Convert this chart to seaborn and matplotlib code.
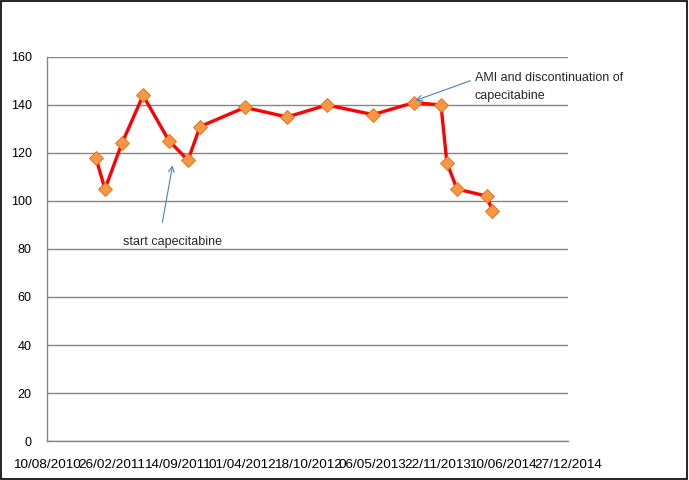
import pandas as pd
import numpy as np
import matplotlib
matplotlib.use("Agg")
import matplotlib.pyplot as plt
import matplotlib.dates as mdates
import seaborn as sns

# values
dates = ["2011-01-07", "2011-02-04", "2011-03-28", "2011-06-01", "2011-08-20",
         "2011-10-17", "2011-11-23", "2012-04-09", "2012-08-16", "2012-12-17",
         "2013-05-07", "2013-09-10", "2013-12-02", "2013-12-20", "2014-01-20",
         "2014-04-22", "2014-05-08"]
values = [118, 105, 124, 144, 125, 117, 131, 139, 135, 140,
          136, 141, 140, 116, 105, 102, 96]
y_ticks = [0, 20, 40, 60, 80, 100, 120, 140, 160]

df = pd.DataFrame({"date": pd.to_datetime(dates), "value": values})

sns.set_style("white")
plt.rcParams["font.family"] = ["Liberation Sans", "DejaVu Sans"]

fig = plt.figure(figsize=(6.89, 4.8), dpi=100)
ax = fig.add_axes([47 / 689, 1 - 441 / 480, 521 / 689, 384 / 480])

sns.lineplot(data=df, x="date", y="value", ax=ax, color="#FF0000", linewidth=2.4,
             marker="D", markersize=7, markerfacecolor="#F79646",
             markeredgecolor="#E46C0A", markeredgewidth=0.6)

# x axis: Excel style date axis, one tick every 200 days
start = pd.Timestamp("2010-08-10")
x_ticks = pd.date_range(start, periods=9, freq="200D")
ax.set_xlim(x_ticks[0], x_ticks[-1])
ax.set_xticks(x_ticks)
ax.xaxis.set_major_formatter(mdates.DateFormatter("%d/%m/%Y"))

ax.set_ylim(0, 160)
ax.set_yticks(y_ticks)
ax.yaxis.grid(True, color="#868686", linewidth=1)
ax.set_axisbelow(True)

for s in ["top", "right"]:
    ax.spines[s].set_visible(False)
for s in ["left", "bottom"]:
    ax.spines[s].set_color("#868686")
    ax.spines[s].set_linewidth(1)

ax.tick_params(axis="both", direction="out", length=5, width=1, color="#868686",
               labelcolor="black")
ax.tick_params(axis="x", pad=8, labelsize=9.7)
ax.tick_params(axis="y", pad=6, labelsize=9)
ax.set_xlabel("")
ax.set_ylabel("")

# annotations
arrow = dict(arrowstyle="->", color="#4F81BD", linewidth=0.8)
ax.annotate("", xy=(pd.Timestamp("2011-09-01"), 116),
            xytext=(pd.Timestamp("2011-07-29"), 90), arrowprops=arrow)
ax.text(pd.Timestamp("2011-03-31"), 83, "start capecitabine",
        fontsize=9, va="center", ha="left")

ax.annotate("", xy=(pd.Timestamp("2013-09-07"), 141.5),
            xytext=(pd.Timestamp("2014-03-10"), 150.5), arrowprops=arrow)
ax.text(pd.Timestamp("2014-03-16"), 147.5, "AMI and discontinuation of\ncapecitabine",
        fontsize=9, va="center", ha="left", linespacing=1.6, clip_on=False)

# border around the whole chart
fig.patches.append(plt.Rectangle((0.002, 0.003), 0.995, 0.994, transform=fig.transFigure,
                                 fill=False, edgecolor="black", linewidth=1.2))

fig.savefig("out.png", dpi=100)
